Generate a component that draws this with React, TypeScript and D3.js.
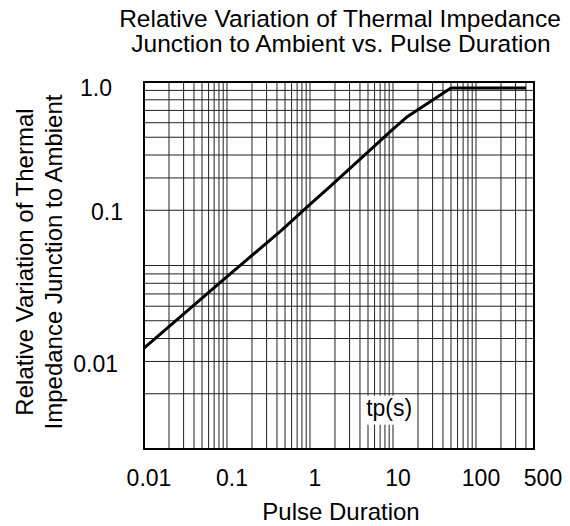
import * as d3 from "d3";

// tick labels
const xTicks = [0.01, 0.1, 1, 10, 100, 500];
const xTickLabels = ["0.01", "0.1", "1", "10", "100", "500"];
const yTicks = [0.01, 0.1, 1];
const yTickLabels = ["0.01", "0.1", "1.0"];
const yLabelNudge = [0, 5, -6];

// curve
const pulseDuration = [0.01, 0.1, 0.46, 1, 1.74, 10, 15, 50, 400];
const relImpedance = [0.0127, 0.0376, 0.0762, 0.115, 0.16, 0.466, 0.59, 1.0, 1.0];

const W = 570;
const H = 526;
const left = 144, right = 534, top = 82, bottom = 449;
const font = "'Liberation Sans', Arial, sans-serif";

export default function App() {
  const x = d3.scaleLog().domain([0.01, 500]).range([left, right]);
  // background log paper
  const yGrid = d3.scaleLog().domain([1, 100]).range([bottom, top]);
  // value scale used by the labels and the curve
  const y = d3.scaleLog().domain([0.01, 0.1, 1]).range([364, 212, 88]);

  const line = d3.line<number>()
    .x((d) => x(d))
    .y((_, i) => y(relImpedance[i]));
  const path = line(pulseDuration) || "";

  const tpX = x(9);
  const tpY = yGrid(1.5);

  return (
    <svg width={W} height={H} style={{ position: "absolute", left: 0, top: 0, background: "#fff" }} fontFamily={font}>
      <rect width={W} height={H} fill="#fff" />
      <text x={340} y={27} fontSize={24.5} textAnchor="middle">Relative Variation of Thermal Impedance</text>
      <text x={341} y={52} fontSize={24.5} textAnchor="middle">Junction to Ambient vs. Pulse Duration</text>

      <g stroke="#222" strokeWidth={1}>
        {x.ticks().map((t, i) => (
          <line key={"vx" + i} x1={x(t)} x2={x(t)} y1={top} y2={bottom} />
        ))}
        {yGrid.ticks().map((t, i) => (
          <line key={"hy" + i} x1={left} x2={right} y1={yGrid(t)} y2={yGrid(t)} />
        ))}
      </g>

      <rect x={tpX - 27} y={tpY - 21} width={54} height={29} fill="#fff" />
      <text x={tpX} y={tpY - 1} fontSize={23} textAnchor="middle">tp(s)</text>

      <path d={path} fill="none" stroke="#000" strokeWidth={3} strokeLinejoin="round" />
      <rect x={left} y={top} width={right - left} height={bottom - top} fill="none" stroke="#000" strokeWidth={2} />

      {xTicks.map((t, i) => (
        <text key={"xt" + i} x={x(t) + (i === xTicks.length - 1 ? 9 : 5)} y={486} fontSize={23} textAnchor="middle">{xTickLabels[i]}</text>
      ))}
      {yTicks.map((t, i) => (
        <text key={"yt" + i} x={118 + yLabelNudge[i]} y={y(t)} dy="0.35em" fontSize={23} textAnchor="end">{yTickLabels[i]}</text>
      ))}

      <text x={341} y={520} fontSize={24} textAnchor="middle">Pulse Duration</text>
      <g transform="translate(33,262) rotate(-90)">
        <text x={0} y={0} fontSize={24} textAnchor="middle">Relative Variation of Thermal</text>
      </g>
      <g transform="translate(62,262) rotate(-90)">
        <text x={0} y={0} fontSize={24} textAnchor="middle">Impedance Junction to Ambient</text>
      </g>
    </svg>
  );
}
